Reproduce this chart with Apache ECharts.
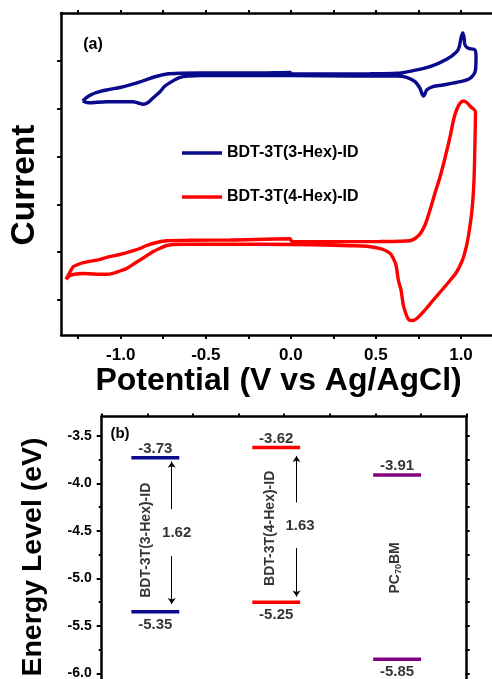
<!DOCTYPE html>
<html><head><meta charset="utf-8">
<script src="https://cdn.jsdelivr.net/npm/echarts@6/dist/echarts.min.js"></script>
<style>html,body{margin:0;padding:0;background:#fff}#c{width:492px;height:679px}</style>
</head><body><div id="c"></div>
<script>
const FONT = '"Liberation Sans", Arial, Helvetica, sans-serif';

// ---------- Panel (a): cyclic voltammograms ----------
const seriesNames = ['BDT-3T(3-Hex)-ID', 'BDT-3T(4-Hex)-ID'];
const hex3Potential = [-1.2233,-1.1922,-1.1510,-1.0823,-1.0041,-0.9453,-0.8866,-0.8278,-0.7690,-0.7297,-0.6515,-0.5339,-0.1813,-0.005,0.0068,0.2301,0.4652,0.6221,0.7179,0.8178,0.9160,0.9747,0.9900,1.0000,1.0100,1.0176,1.0235,1.0429,1.0823,1.0882,1.0852,1.0529,0.9941,0.8942,0.8354,0.7984,0.7855,0.7784,0.7649,0.7590,0.7297,0.6809,0.6221,0.3476,0.0068,-0.2401,-0.5339,-0.5927,-0.6515,-0.6909,-0.7396,-0.7690,-0.8102,-0.8396,-0.8672,-0.8983,-0.9277,-1.0823,-1.1904,-1.2233];
const hex3Current = [4.1606,4.2547,4.3278,4.3905,4.4428,4.4951,4.5578,4.6352,4.6937,4.7251,4.7397,4.7460,4.7460,4.7564,4.7251,4.7251,4.7293,4.7397,4.7941,4.8777,5.0324,5.1913,5.2958,5.4777,5.5823,5.4986,5.3314,5.2624,5.2268,5.0868,4.8087,4.6352,4.5641,4.4951,4.4596,4.3905,4.2860,4.2651,4.3697,4.4261,4.5641,4.6561,4.6833,4.6833,4.6937,4.6937,4.6937,4.6833,4.6561,4.5850,4.4742,4.3550,4.2233,4.1292,4.0916,4.1188,4.1459,4.1459,4.1250,4.1606];
const hex4Potential = [-1.3215,-1.2980,-1.2786,-1.2586,-1.2198,-1.1217,-1.0823,-1.0041,-0.9453,-0.8866,-0.8472,-0.7884,-0.7297,-0.5927,-0.3576,-0.005,0.0068,0.2477,0.5239,0.7003,0.7297,0.7590,0.7884,0.8178,0.8472,0.8766,0.9060,0.9354,0.9589,0.9765,0.9941,1.0135,1.0335,1.0588,1.0852,1.0823,1.0764,1.0647,1.0429,1.0235,1.0041,0.9706,0.9354,0.8883,0.8372,0.7884,0.7473,0.7179,0.6944,0.6768,0.6609,0.6474,0.6315,0.6180,0.6004,0.5827,0.5433,0.4946,0.4458,0.3476,0.2477,0.0068,-0.3400,-0.6321,-0.6909,-0.7297,-0.7690,-0.8084,-0.8672,-0.9060,-0.9647,-1.0041,-1.0453,-1.0823,-1.1217,-1.1804,-1.2198,-1.2627,-1.2980,-1.3215];
const hex4Current = [0.4328,0.5854,0.6962,0.7318,0.7798,0.8509,0.8927,0.9513,1.0098,1.0767,1.1395,1.2022,1.2398,1.2482,1.2544,1.2795,1.2231,1.2189,1.2231,1.2398,1.2858,1.3799,1.5681,1.8817,2.2371,2.5716,2.9688,3.4079,3.8051,3.9933,4.1125,4.1606,4.1292,4.0351,3.9369,3.3452,2.5089,1.8817,1.3234,1.0036,0.7945,0.5645,0.4077,0.2091,0.0,-0.2091,-0.3659,-0.4286,-0.4181,-0.2927,-0.1045,0.2091,0.4181,0.7318,0.8781,0.9764,1.0558,1.0976,1.1227,1.1353,1.1436,1.1604,1.1666,1.1666,1.1604,1.1395,1.0809,1.0140,0.8781,0.7945,0.6586,0.6063,0.5582,0.5373,0.5373,0.5478,0.5540,0.5436,0.5122,0.4328];
const potentialTickValues = [-1.25,-1.0,-0.75,-0.5,-0.25,0,0.25,0.5,0.75,1.0];
const potentialLabelValues = [-1.0,-0.5,0.0,0.5,1.0];
const currentTickValues = [0,1,2,3,4,5];

// ---------- Panel (b): energy levels ----------
const materials = ['BDT-3T(3-Hex)-ID', 'BDT-3T(4-Hex)-ID', 'PC{s|70}BM'];
const lumo = [-3.73, -3.62, -3.91];
const homo = [-5.35, -5.25, -5.85];
const levelStart = [0.65, 3.3, 5.95];
const levelEnd = [1.7, 4.35, 7.0];
const nameX = [0.97, 3.69, 6.43];
const nameY = [-4.598, -4.472, -4.889];
const gapX = [1.643, 4.346];
const gapY = [-4.525, -4.447];
const arrowX = [1.534, 4.27];
const arrowUp = [[-4.27, -3.77], [-4.20, -3.71]];
const arrowDown = [[-4.763, -5.268], [-4.68, -5.19]];
const energyMajorTicks = [-6.0, -5.5, -5.0, -4.5, -4.0, -3.5];
const energyMinorTicks = [-5.75, -5.25, -4.75, -4.25, -3.75];
const energyAllTicks = [-6.0,-5.75,-5.5,-5.25,-5.0,-4.75,-4.5,-4.25,-4.0,-3.75,-3.5];

const BLUE = '#0a0a8c', RED = '#ff0000', PURPLE = '#800080';
const cvColors = [BLUE, RED];
const levelColors = [BLUE, RED, PURPLE];

const zip = (a, b) => a.map((v, i) => [v, b[i]]);
const AX = () => ({color: '#000', width: 2.5});
const TK = () => ({color: '#000', width: 2});

const chart = echarts.init(document.getElementById('c'), null, {renderer: 'canvas'});

const series = [];
[ [hex3Potential, hex3Current], [hex4Potential, hex4Current] ].forEach((d, i) => {
  series.push({
    type: 'line', name: seriesNames[i], xAxisIndex: 0, yAxisIndex: 0,
    data: zip(d[0], d[1]), symbol: 'none', showSymbol: false, smooth: 0.3,
    lineStyle: {width: 3.4, color: cvColors[i]}, itemStyle: {color: cvColors[i]},
    silent: true, z: 3
  });
});

// energy level bars
materials.forEach((m, i) => {
  [lumo[i], homo[i]].forEach(v => {
    series.push({
      type: 'line', xAxisIndex: 1, yAxisIndex: 1,
      data: [[levelStart[i], v], [levelEnd[i], v]], symbol: 'none',
      lineStyle: {width: 3.5, color: levelColors[i]}, silent: true
    });
  });
});

// energy value labels
const valueLabels = [];
materials.forEach((m, i) => {
  const mid = (levelStart[i] + levelEnd[i]) / 2;
  valueLabels.push({value: [mid, lumo[i]], label: {position: 'top', distance: 1}});
  valueLabels.push({value: [mid, homo[i]], label: {position: 'bottom', distance: 5}});
});
series.push({
  type: 'scatter', xAxisIndex: 1, yAxisIndex: 1, symbolSize: 1,
  itemStyle: {color: 'transparent'}, silent: true,
  data: valueLabels,
  label: {show: true, formatter: p => p.value[1].toFixed(2), color: '#000',
          fontFamily: FONT, fontWeight: 'bold', fontSize: 15}
});

// material names (rotated)
series.push({
  type: 'scatter', xAxisIndex: 1, yAxisIndex: 1, symbolSize: 1,
  itemStyle: {color: 'transparent'}, silent: true,
  data: materials.map((m, i) => ({value: [nameX[i], nameY[i]], name: m})),
  label: {show: true, position: 'inside', rotate: 90, formatter: p => p.name,
          color: '#000', fontFamily: FONT, fontWeight: 'bold', fontSize: 14,
          rich: {s: {fontSize: 9, fontFamily: FONT, fontWeight: 'bold', color: '#000', verticalAlign: 'bottom', padding: [7, 0, 0, 0]}}}
});

// band gap labels
series.push({
  type: 'scatter', xAxisIndex: 1, yAxisIndex: 1, symbolSize: 1,
  itemStyle: {color: 'transparent'}, silent: true,
  data: gapX.map((x, i) => ({value: [x, gapY[i]], gap: (lumo[i] - homo[i]).toFixed(2)})),
  label: {show: true, position: 'inside', formatter: p => p.data.gap,
          color: '#000', fontFamily: FONT, fontWeight: 'bold', fontSize: 15}
});

// arrows
const arrowData = [];
arrowX.forEach((x, i) => {
  arrowData.push({coords: [[x, arrowUp[i][0]], [x, arrowUp[i][1]]]});
  arrowData.push({coords: [[x, arrowDown[i][0]], [x, arrowDown[i][1]]]});
});
series.push({
  type: 'lines', coordinateSystem: 'cartesian2d', xAxisIndex: 1, yAxisIndex: 1,
  data: arrowData, symbol: ['none', 'arrow'], symbolSize: 6,
  lineStyle: {color: '#000', width: 1, opacity: 1}, silent: true, z: 4
});

const xMinA = -1.35, xMaxA = 1.1822, yMinA = -0.7318, yMaxA = 6.0;
const xMinB = 0, xMaxB = 8, yMinB = -6.058, yMaxB = -3.295;

const option = {
  animation: false,
  backgroundColor: '#fff',
  textStyle: {fontFamily: FONT},
  grid: [
    {left: 61.15, top: 13, width: 430.85, height: 322, containLabel: false, outerBoundsMode: 'none'},
    {left: 101.7, top: 416.5, width: 365, height: 262.5, containLabel: false, outerBoundsMode: 'none'}
  ],
  legend: {
    data: seriesNames, orient: 'vertical', left: 182, top: 145, padding: 0,
    icon: 'rect', itemWidth: 40, itemHeight: 3.5, itemGap: 28,
    textStyle: {fontFamily: FONT, fontWeight: 'bold', fontSize: 16, lineHeight: 16, color: '#000'},
    selectedMode: false
  },
  xAxis: [
    {gridIndex: 0, type: 'value', position: 'bottom', min: xMinA, max: xMaxA,
     axisLine: {show: true, onZero: false, lineStyle: AX()},
     axisTick: {show: true, customValues: potentialTickValues, length: 4, lineStyle: TK()},
     axisLabel: {show: true, customValues: potentialLabelValues, formatter: v => v.toFixed(1), margin: 12,
                 color: '#000', fontFamily: FONT, fontWeight: 'bold', fontSize: 17},
     splitLine: {show: false},
     name: 'Potential (V vs Ag/AgCl)', nameLocation: 'middle', nameGap: 27,
     nameTextStyle: {color: '#000', fontFamily: FONT, fontWeight: 'bold', fontSize: 32, padding: [0, 0, 0, 4]}},
    {gridIndex: 1, type: 'value', position: 'top', min: xMinB, max: xMaxB, interval: 1,
     axisLine: {show: true, onZero: false, lineStyle: AX()}, axisTick: {show: true, length: 3, lineStyle: TK()},
     axisLabel: {show: false}, splitLine: {show: false}},
    {gridIndex: 0, type: 'value', position: 'top', min: xMinA, max: xMaxA,
     axisLine: {show: true, onZero: false, lineStyle: AX()},
     axisTick: {show: true, customValues: potentialTickValues, length: 3, lineStyle: TK()},
     axisLabel: {show: false}, splitLine: {show: false}}
  ],
  yAxis: [
    {gridIndex: 0, type: 'value', position: 'left', min: yMinA, max: yMaxA,
     axisLine: {show: true, onZero: false, lineStyle: AX()},
     axisTick: {show: true, customValues: currentTickValues, length: 4, lineStyle: TK()},
     axisLabel: {show: false}, splitLine: {show: false}},
    {gridIndex: 1, type: 'value', position: 'left', min: yMinB, max: yMaxB,
     axisLine: {show: true, onZero: false, lineStyle: AX()},
     axisTick: {show: true, customValues: energyMajorTicks, length: 5, lineStyle: TK()},
     axisLabel: {show: true, customValues: energyMajorTicks, formatter: v => v.toFixed(1), margin: 10,
                 color: '#000', fontFamily: FONT, fontWeight: 'bold', fontSize: 14},
     splitLine: {show: false}},
    {gridIndex: 1, type: 'value', position: 'left', min: yMinB, max: yMaxB,
     axisLine: {show: false, onZero: false},
     axisTick: {show: true, customValues: energyMinorTicks, length: 3, lineStyle: TK()},
     axisLabel: {show: false}, splitLine: {show: false}},
    {gridIndex: 1, type: 'value', position: 'right', min: yMinB, max: yMaxB,
     axisLine: {show: true, onZero: false, lineStyle: AX()},
     axisTick: {show: true, customValues: energyAllTicks, length: 3, lineStyle: TK()},
     axisLabel: {show: false}, splitLine: {show: false}}
  ],
  graphic: [
    {type: 'text', x: 25, y: 185, rotation: Math.PI / 2,
     style: {text: 'Current', fill: '#000', font: 'bold 33.5px ' + FONT, align: 'center', verticalAlign: 'middle'}},
    {type: 'text', x: 33, y: 557, rotation: Math.PI / 2,
     style: {text: 'Energy Level (eV)', fill: '#000', font: 'bold 28.5px ' + FONT, align: 'center', verticalAlign: 'middle'}},
    {type: 'text', x: 93, y: 45,
     style: {text: '(a)', fill: '#000', font: 'bold 16px ' + FONT, align: 'center', verticalAlign: 'middle'}},
    {type: 'text', x: 120, y: 434,
     style: {text: '(b)', fill: '#000', font: 'bold 15px ' + FONT, align: 'center', verticalAlign: 'middle'}},
    // panel (a) continues past the right edge of the picture: no right frame is visible there
    {type: 'rect', silent: true, z: 1000, shape: {x: 487.8, y: 16, width: 6, height: 316}, style: {fill: '#fff'}}
  ],
  series: series
};
chart.setOption(option);
</script>
</body></html>
